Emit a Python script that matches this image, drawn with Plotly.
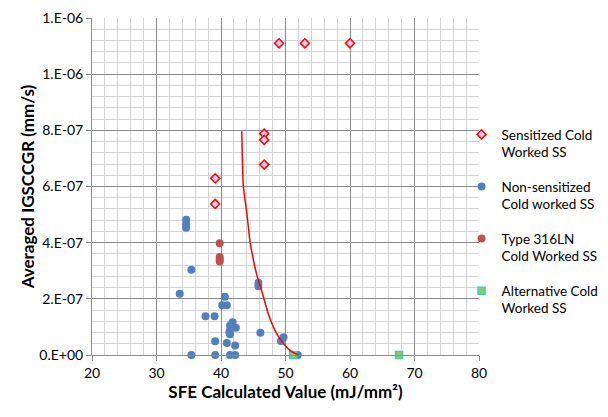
import plotly.graph_objects as go

# Sensitized Cold Worked SS
sens_x = [49.0, 53.0, 60.0, 46.7, 46.7, 46.7, 39.1, 39.1]
sens_y = [1.11e-6, 1.11e-6, 1.11e-6, 7.88e-7, 7.66e-7, 6.78e-7, 6.29e-7, 5.38e-7]

# Non-sensitized Cold worked SS
non_x = [34.6, 34.6, 34.6, 35.4, 33.6, 45.8, 45.8, 40.6, 40.2, 40.9, 37.6, 39.0,
         41.8, 41.4, 42.3, 41.4, 41.4, 41.3, 46.1, 49.7, 49.3, 39.1, 40.9, 42.2,
         35.4, 39.1, 41.4, 42.2, 51.9, 51.6]
non_y = [4.82e-7, 4.65e-7, 4.53e-7, 3.04e-7, 2.18e-7, 2.57e-7, 2.45e-7, 2.07e-7,
         1.77e-7, 1.77e-7, 1.38e-7, 1.38e-7, 1.17e-7, 1.05e-7, 9.7e-8, 8.8e-8,
         7.4e-8, 8.0e-8, 7.9e-8, 6.3e-8, 5.0e-8, 4.9e-8, 4.3e-8, 3.4e-8,
         0.0, 0.0, 0.0, 0.0, 0.0, 0.0]

# Type 316LN Cold Worked SS
ln_x = [39.8, 39.8, 39.8, 39.8]
ln_y = [3.98e-7, 3.49e-7, 3.41e-7, 3.33e-7]

# Alternative Cold Worked SS
alt_x = [51.2, 67.6]
alt_y = [0.0, 0.0]

# Red curve
curve_x = [43.22, 43.47, 43.99, 44.50, 44.77, 45.54, 46.32, 47.34, 48.37, 49.66, 50.96, 51.98]
curve_y = [7.97e-7, 6.01e-7, 5.08e-7, 4.03e-7, 3.68e-7, 2.86e-7, 2.28e-7, 1.46e-7,
           8.8e-8, 4.1e-8, 1.2e-8, 0.0]

y_tickvals = [0, 2e-7, 4e-7, 6e-7, 8e-7, 1.0e-6, 1.2e-6]
y_ticktext = ["0.E+00", "2.E-07", "4.E-07", "6.E-07", "8.E-07", "1.E-06", "1.E-06"]
x_tickvals = [20, 30, 40, 50, 60, 70, 80]

FONT = "Lato, 'Open Sans', sans-serif"

fig = go.Figure()
fig.add_trace(go.Scatter(
    x=sens_x, y=sens_y, mode="markers", name="Sensitized Cold<br>Worked SS",
    legendgroup="a", cliponaxis=False,
    marker=dict(symbol="diamond", size=7, color="#FFC8F0",
                line=dict(color="#FF0000", width=1.5))))
fig.add_trace(go.Scatter(
    x=non_x, y=non_y, mode="markers", name="Non-sensitized<br>Cold worked SS",
    legendgroup="b", cliponaxis=False,
    marker=dict(symbol="circle", size=8, color="#4F81BD")))
fig.add_trace(go.Scatter(
    x=ln_x, y=ln_y, mode="markers", name="Type 316LN<br>Cold Worked SS",
    legendgroup="c", cliponaxis=False,
    marker=dict(symbol="circle", size=8, color="#C0504D")))
fig.add_trace(go.Scatter(
    x=alt_x, y=alt_y, mode="markers", name="Alternative Cold<br>Worked SS",
    legendgroup="d", cliponaxis=False,
    marker=dict(symbol="square", size=7, color="#92D050",
                line=dict(color="#4BC0E0", width=1.5))))
fig.add_trace(go.Scatter(
    x=curve_x, y=curve_y, mode="lines", showlegend=False, cliponaxis=False,
    line=dict(color="#FF0000", width=1.5, shape="spline", smoothing=0.6)))

fig.update_layout(
    width=608, height=417,
    margin=dict(l=84, r=137, t=10, b=70),
    paper_bgcolor="white", plot_bgcolor="white",
    font=dict(family=FONT, size=13, color="#000000"),
    legend=dict(x=0.955, y=0.70, xanchor="left", yanchor="top",
                bgcolor="rgba(0,0,0,0)", valign="top", tracegroupgap=14,
                font=dict(size=13.5, color="#000000"), itemwidth=30),
    xaxis=dict(range=[20, 80], tickvals=x_tickvals, automargin=False,
               showgrid=True, gridcolor="#8C8C8C", gridwidth=1,
               minor=dict(dtick=2, showgrid=True, gridcolor="#D4D4D4", gridwidth=1),
               showline=True, linecolor="#8C8C8C", linewidth=1,
               ticks="outside", ticklen=5, tickcolor="#8C8C8C",
               zeroline=False, mirror=False,
               tickfont=dict(size=14),
               title=dict(text="<b>SFE Calculated Value (mJ/mm²)</b>",
                          font=dict(size=17), standoff=5)),
    yaxis=dict(range=[0, 1.2e-6], tickvals=y_tickvals, ticktext=y_ticktext,
               automargin=False, ticklabeloverflow="allow",
               showgrid=True, gridcolor="#8C8C8C", gridwidth=1,
               minor=dict(dtick=4e-8, showgrid=True, gridcolor="#D4D4D4", gridwidth=1),
               showline=True, linecolor="#8C8C8C", linewidth=1,
               ticks="outside", ticklen=5, tickcolor="#8C8C8C",
               zeroline=False,
               tickfont=dict(size=14),
               title=dict(text="<b>Averaged IGSCCGR (mm/s)</b>",
                          font=dict(size=17), standoff=0)),
)

fig.write_html("out.html")
